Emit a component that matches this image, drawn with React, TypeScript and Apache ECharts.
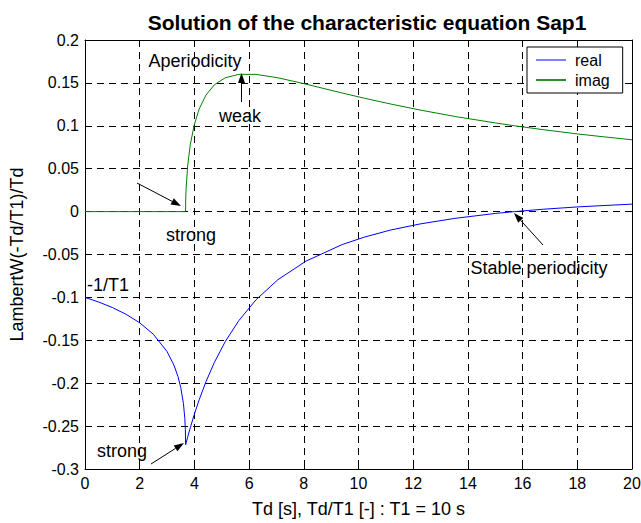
import React, { useEffect, useRef } from "react";
import * as echarts from "echarts";

const FONT = "'Liberation Sans', Arial, Helvetica, sans-serif";

const chartTitle = "Solution of the characteristic equation Sap1";
const xAxisName = "Td [s], Td/T1 [-] : T1 = 10 s";
const yAxisName = "LambertW(-Td/T1)/Td";
const seriesNames = ["real", "imag"];

// Real part of LambertW(-Td/T1)/Td
const tdReal = [0, 0.5, 1, 1.5, 2, 2.5, 3, 3.25, 3.4, 3.5, 3.6, 3.65, 3.67, 3.679, 3.682, 3.697, 3.753, 3.849, 3.988, 4.176, 4.421, 4.733, 5.128, 5.625, 6.254, 7.051, 8.075, 9.404, 10.22, 11.159, 12.249, 13.52, 15.012, 15.708, 16.773, 17.985, 18.867, 20];
const realPart = [-0.1, -0.1054, -0.1118, -0.1197, -0.1296, -0.143, -0.1631, -0.1788, -0.1923, -0.2048, -0.2239, -0.2412, -0.2541, -0.2718, -0.2715, -0.2696, -0.2629, -0.252, -0.2372, -0.2192, -0.1984, -0.1756, -0.1515, -0.127, -0.1027, -0.0794, -0.0578, -0.0384, -0.0297, -0.0216, -0.0144, -0.0079, -0.0021, 0, 0.0028, 0.0054, 0.0069, 0.0087];

// Imaginary part of LambertW(-Td/T1)/Td
const tdImag = [0, 3.679, 3.682, 3.697, 3.753, 3.849, 3.988, 4.176, 4.421, 4.733, 5.128, 5.625, 6.254, 7.051, 8.075, 9.404, 10.22, 11.159, 12.249, 13.52, 15.012, 15.708, 16.773, 17.985, 18.867, 20];
const imagPart = [0, 0, 0.0136, 0.0271, 0.0533, 0.0779, 0.1003, 0.1197, 0.1357, 0.1479, 0.156, 0.16, 0.1599, 0.156, 0.1486, 0.1382, 0.1321, 0.1255, 0.1184, 0.1109, 0.1033, 0.1, 0.0954, 0.0906, 0.0875, 0.0837];

function arrow(x1: number, y1: number, x2: number, y2: number) {
  const dx = x2 - x1, dy = y2 - y1;
  const len = Math.hypot(dx, dy);
  const ux = dx / len, uy = dy / len;
  const hl = 10, hw = 3.5;
  const bx = x2 - ux * hl, by = y2 - uy * hl;
  return [
    { type: "line", shape: { x1, y1, x2: bx, y2: by }, style: { stroke: "#000", lineWidth: 1 }, z: 100 },
    {
      type: "polygon",
      shape: { points: [[x2, y2], [bx - uy * hw, by + ux * hw], [bx + uy * hw, by - ux * hw]] },
      style: { fill: "#000" },
      z: 100,
    },
  ];
}

function label(text: string, x: number, y: number) {
  return {
    type: "text",
    x,
    y,
    z: 100,
    style: {
      text,
      fill: "#000",
      fontSize: 18,
      fontFamily: FONT,
      textAlign: "center",
      align: "center",
      textVerticalAlign: "middle",
      verticalAlign: "middle",
    },
  };
}

export default function App() {
  const ref = useRef<HTMLDivElement>(null);
  useEffect(() => {
    if (!ref.current) return;
    const chart = echarts.init(ref.current, null, { renderer: "svg" });
    const fmt = (v: number) => String(parseFloat(v.toFixed(2)));
    const gridLine = { show: true, lineStyle: { color: "#000", type: [7, 5], width: 1 } };
    const option: any = {
      animation: false,
      backgroundColor: "#fff",
      textStyle: { fontFamily: FONT },
      title: {
        text: chartTitle,
        left: 362,
        top: 7,
        textAlign: "center",
        textStyle: { fontSize: 21, fontWeight: "bold", color: "#000", fontFamily: FONT },
      },
      legend: {
        orient: "vertical",
        left: 527,
        top: 47,
        padding: [5, 13, 5, 9],
        itemGap: 4,
        itemWidth: 30,
        itemHeight: 2,
        backgroundColor: "#fff",
        borderColor: "#000",
        borderWidth: 1,
        borderRadius: 0,
        textStyle: { fontSize: 16, color: "#000", fontFamily: FONT, lineHeight: 16, padding: [0, 0, 0, 4] },
        data: [
          { name: seriesNames[0], icon: "rect", itemStyle: { color: "#7f7fff" } },
          { name: seriesNames[1], icon: "rect", itemStyle: { color: "#2e8b2e" } },
        ],
      },
      grid: { left: 85, right: 9, top: 40, bottom: 54, show: false, outerBoundsMode: "none", containLabel: false },
      xAxis: [
        {
          type: "value",
          min: 0,
          max: 20,
          interval: 2,
          name: xAxisName,
          nameLocation: "middle",
          nameGap: 31,
          nameTextStyle: { fontSize: 18, color: "#000", fontFamily: FONT },
          axisLine: { show: true, onZero: false, lineStyle: { color: "#000", width: 1 } },
          axisTick: { show: true, inside: true, length: 5, lineStyle: { color: "#000" } },
          axisLabel: { fontSize: 16, color: "#000", margin: 6, fontFamily: FONT },
          splitLine: gridLine,
        },
        {
          type: "value",
          position: "top",
          min: 0,
          max: 20,
          interval: 2,
          axisLine: { show: true, onZero: false, lineStyle: { color: "#000", width: 1 } },
          axisTick: { show: true, inside: true, length: 5, lineStyle: { color: "#000" } },
          axisLabel: { show: false },
          splitLine: { show: false },
        },
      ],
      yAxis: [
        {
          type: "value",
          min: -0.3,
          max: 0.2,
          interval: 0.05,
          name: yAxisName,
          nameLocation: "middle",
          nameRotate: 90,
          nameGap: 59,
          nameTextStyle: { fontSize: 18, color: "#000", fontFamily: FONT },
          axisLine: { show: true, onZero: false, lineStyle: { color: "#000", width: 1 } },
          axisTick: { show: true, inside: true, length: 5, lineStyle: { color: "#000" } },
          axisLabel: { fontSize: 16, color: "#000", margin: 6, fontFamily: FONT, formatter: fmt },
          splitLine: gridLine,
        },
        {
          type: "value",
          position: "right",
          min: -0.3,
          max: 0.2,
          interval: 0.05,
          axisLine: { show: true, onZero: false, lineStyle: { color: "#000", width: 1 } },
          axisTick: { show: true, inside: true, length: 5, lineStyle: { color: "#000" } },
          axisLabel: { show: false },
          splitLine: { show: false },
        },
      ],
      series: [
        {
          name: seriesNames[0],
          type: "line",
          showSymbol: false,
          symbol: "none",
          color: "#0000ff",
          lineStyle: { color: "#0000ff", width: 1 },
          data: tdReal.map((x, i) => [x, realPart[i]]),
          z: 5,
        },
        {
          name: seriesNames[1],
          type: "line",
          showSymbol: false,
          symbol: "none",
          color: "#008000",
          lineStyle: { color: "#008000", width: 1 },
          data: tdImag.map((x, i) => [x, imagPart[i]]),
          z: 5,
        },
      ],
      graphic: [
        label("Aperiodicity", 195, 61),
        label("weak", 240, 116),
        ...arrow(241.5, 102, 241.5, 73),
        label("strong", 191, 235),
        ...arrow(137, 183, 181, 206),
        label("-1/T1", 108, 285),
        label("strong", 122, 451),
        ...arrow(151, 464, 184, 443),
        label("Stable periodicity", 539, 268),
        ...arrow(543, 245, 514, 213),
      ],
    };
    chart.setOption(option);
    return () => chart.dispose();
  }, []);
  return (
    <div
      ref={ref}
      style={{ position: "absolute", left: 0, top: 0, width: 641, height: 523, background: "#fff" }}
    />
  );
}
